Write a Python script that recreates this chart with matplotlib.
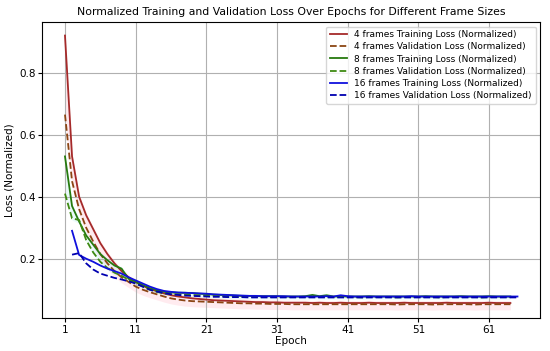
import numpy as np
import matplotlib.pyplot as plt

epochs_4 = list(range(1, 65))
epochs_8 = list(range(1, 65))
epochs_16 = list(range(2, 66))

train_4 = [0.920, 0.530, 0.400, 0.340, 0.295, 0.250, 0.215, 0.185, 0.160, 0.140,
           0.125, 0.113, 0.102, 0.095, 0.088, 0.082, 0.078, 0.075, 0.072, 0.070,
           0.068, 0.066, 0.065, 0.064, 0.063, 0.062, 0.061, 0.060, 0.060, 0.059,
           0.059, 0.058, 0.058, 0.058, 0.058, 0.057, 0.058, 0.057, 0.057, 0.058,
           0.057, 0.057, 0.057, 0.058, 0.057, 0.057, 0.057, 0.057, 0.058, 0.057,
           0.057, 0.057, 0.057, 0.057, 0.058, 0.057, 0.057, 0.057, 0.057, 0.057,
           0.058, 0.057, 0.057, 0.057]
val_4 = [0.665, 0.450, 0.360, 0.300, 0.255, 0.215, 0.185, 0.160, 0.140, 0.125,
         0.110, 0.100, 0.092, 0.085, 0.078, 0.072, 0.068, 0.065, 0.063, 0.062,
         0.061, 0.060, 0.059, 0.058, 0.057, 0.056, 0.056, 0.055, 0.055, 0.054,
         0.054, 0.054, 0.053, 0.053, 0.053, 0.053, 0.053, 0.053, 0.053, 0.053,
         0.053, 0.053, 0.053, 0.053, 0.053, 0.053, 0.053, 0.052, 0.053, 0.053,
         0.053, 0.053, 0.052, 0.053, 0.053, 0.053, 0.053, 0.053, 0.052, 0.053,
         0.053, 0.053, 0.053, 0.053]

train_8 = [0.530, 0.370, 0.320, 0.275, 0.245, 0.215, 0.195, 0.178, 0.168, 0.135,
           0.125, 0.115, 0.105, 0.098, 0.093, 0.091, 0.090, 0.090, 0.089, 0.087,
           0.086, 0.084, 0.083, 0.082, 0.081, 0.080, 0.080, 0.079, 0.079, 0.079,
           0.079, 0.078, 0.078, 0.078, 0.079, 0.083, 0.079, 0.082, 0.078, 0.078,
           0.078, 0.078, 0.078, 0.079, 0.078, 0.078, 0.078, 0.078, 0.078, 0.078,
           0.078, 0.079, 0.078, 0.078, 0.078, 0.078, 0.079, 0.078, 0.078, 0.078,
           0.079, 0.078, 0.078, 0.078]
val_8 = [0.410, 0.330, 0.325, 0.260, 0.220, 0.190, 0.170, 0.155, 0.145, 0.132,
         0.120, 0.110, 0.100, 0.093, 0.088, 0.086, 0.085, 0.084, 0.083, 0.082,
         0.081, 0.080, 0.079, 0.078, 0.078, 0.077, 0.077, 0.077, 0.076, 0.076,
         0.076, 0.076, 0.076, 0.076, 0.076, 0.077, 0.076, 0.076, 0.076, 0.076,
         0.076, 0.076, 0.075, 0.076, 0.076, 0.076, 0.076, 0.075, 0.076, 0.076,
         0.076, 0.076, 0.076, 0.075, 0.076, 0.076, 0.076, 0.076, 0.076, 0.075,
         0.076, 0.076, 0.076, 0.076]

train_16 = [0.290, 0.212, 0.200, 0.190, 0.178, 0.168, 0.160, 0.152, 0.140, 0.130,
            0.120, 0.110, 0.102, 0.096, 0.093, 0.091, 0.090, 0.089, 0.088, 0.087,
            0.085, 0.084, 0.083, 0.082, 0.081, 0.080, 0.080, 0.079, 0.079, 0.079,
            0.079, 0.078, 0.078, 0.078, 0.078, 0.078, 0.079, 0.078, 0.082, 0.079,
            0.078, 0.078, 0.078, 0.078, 0.078, 0.078, 0.078, 0.078, 0.079, 0.078,
            0.078, 0.078, 0.078, 0.078, 0.078, 0.078, 0.078, 0.078, 0.078, 0.078,
            0.078, 0.078, 0.078, 0.078]
val_16 = [0.213, 0.218, 0.185, 0.165, 0.152, 0.145, 0.138, 0.133, 0.127, 0.120,
          0.110, 0.100, 0.094, 0.089, 0.085, 0.083, 0.081, 0.080, 0.079, 0.078,
          0.077, 0.077, 0.076, 0.076, 0.076, 0.075, 0.075, 0.075, 0.075, 0.075,
          0.075, 0.075, 0.075, 0.075, 0.075, 0.075, 0.075, 0.075, 0.075, 0.075,
          0.075, 0.075, 0.075, 0.075, 0.075, 0.075, 0.075, 0.075, 0.075, 0.075,
          0.075, 0.075, 0.075, 0.075, 0.075, 0.075, 0.075, 0.075, 0.075, 0.075,
          0.075, 0.075, 0.075, 0.075]

fig, ax = plt.subplots(figsize=(5.5, 3.51), dpi=100)

ax.plot(epochs_4, train_4, color="#a52a2a", lw=1.3, label="4 frames Training Loss (Normalized)")
ax.plot(epochs_4, val_4, color="#8b4513", lw=1.3, ls="--", label="4 frames Validation Loss (Normalized)")
ax.plot(epochs_8, train_8, color="#267a0e", lw=1.3, label="8 frames Training Loss (Normalized)")
ax.plot(epochs_8, val_8, color="#3f8a12", lw=1.3, ls="--", label="8 frames Validation Loss (Normalized)")
ax.plot(epochs_16, train_16, color="#1010dd", lw=1.3, label="16 frames Training Loss (Normalized)")
ax.plot(epochs_16, val_16, color="#0000b0", lw=1.3, ls="--", label="16 frames Validation Loss (Normalized)")
ylim = ax.get_ylim()

# faint shaded bands around each pair (not part of autoscale)
lo = np.minimum(train_4, val_4) - 0.018
hi = np.maximum(train_4, val_4) + 0.008
ax.fill_between(epochs_4, lo, hi, color="pink", alpha=0.3, lw=0, zorder=0)
lo = np.minimum(train_8, val_8) - 0.006
hi = np.maximum(train_8, val_8) + 0.006
ax.fill_between(epochs_8, lo, hi, color="paleturquoise", alpha=0.25, lw=0, zorder=0)
ax.set_ylim(ylim)

ax.set_xticks(range(1, 66, 10))
ax.tick_params(labelsize=7.5, length=3, pad=2)
ax.set_xlabel("Epoch", fontsize=7.5, labelpad=1)
ax.set_ylabel("Loss (Normalized)", fontsize=7.5, labelpad=3)
ax.set_title("Normalized Training and Validation Loss Over Epochs for Different Frame Sizes",
             fontsize=7.8, pad=5)
ax.grid(True)
ax.legend(loc="upper right", fontsize=6.5, handlelength=1.9, labelspacing=0.35)

fig.subplots_adjust(left=0.077, right=0.982, bottom=0.094, top=0.937)
plt.savefig("out.png")
